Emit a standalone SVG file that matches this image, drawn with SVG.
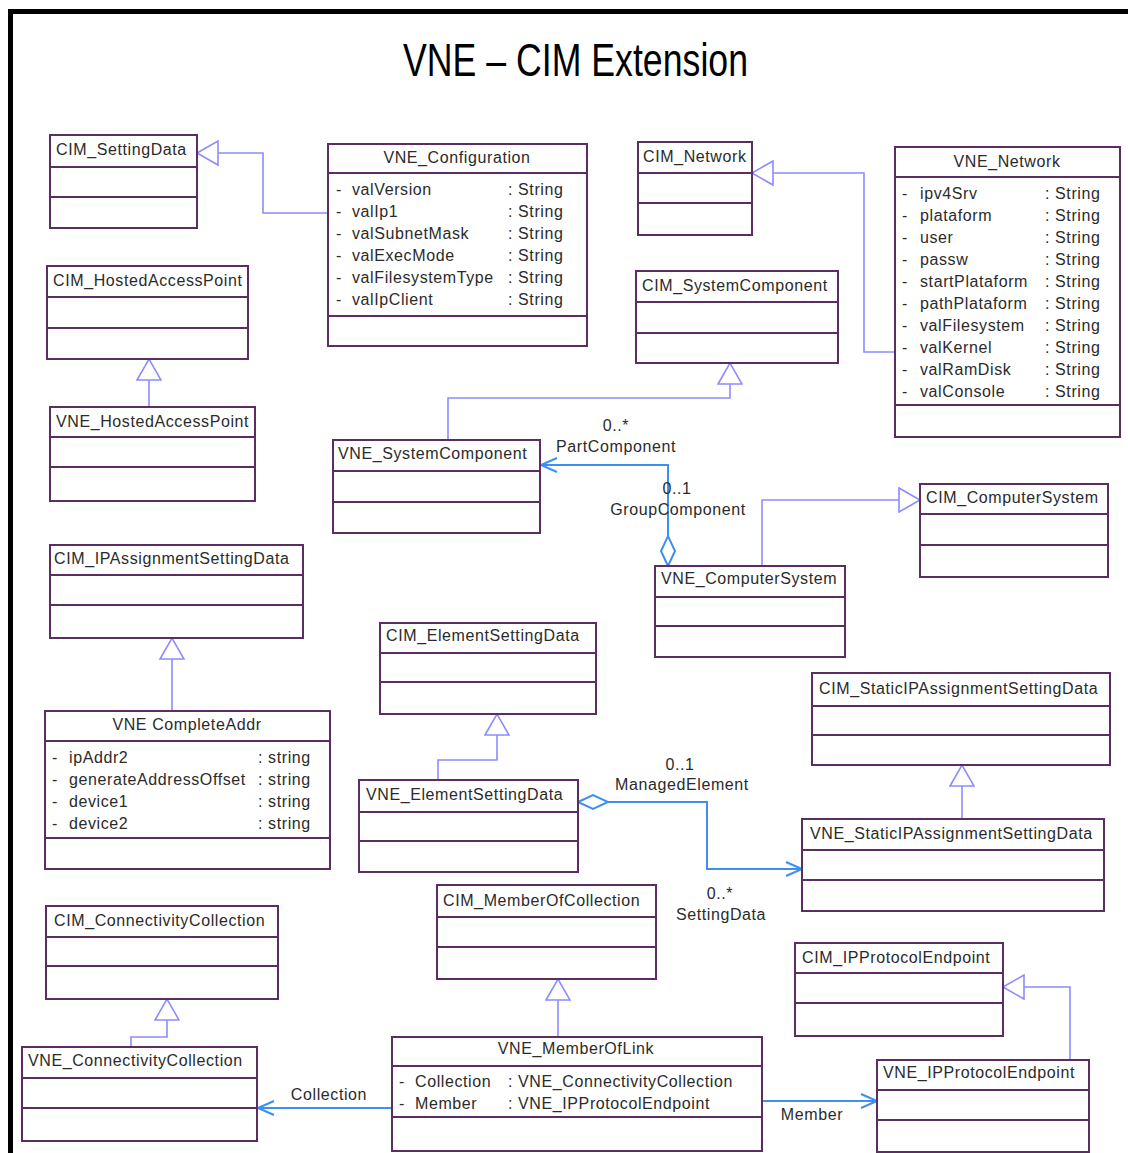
<svg xmlns="http://www.w3.org/2000/svg" width="1128" height="1153" viewBox="0 0 1128 1153">
  <style>
    .box { fill: #ffffff; stroke: #5c2d62; stroke-width: 2; }
    .div { stroke: #5c2d62; stroke-width: 2; }
    .t { font-family: "Liberation Sans", Arial, sans-serif; font-size: 16px; letter-spacing: 0.6px; fill: #2b2b2b; }
    .c { text-anchor: middle; }
    .gen { fill: none; stroke: #8c8cff; stroke-width: 1.6; }
    .assoc { fill: none; stroke: #3d8ff2; stroke-width: 2; }
    .frame { fill: none; stroke: #000000; stroke-width: 5; }
    .title { font-family: "Liberation Sans", Arial, sans-serif; font-size: 47px; fill: #000000; }
  </style>
  <defs>
    <!-- hollow triangle: generalization -->
    <marker id="tri" markerUnits="userSpaceOnUse" markerWidth="24" markerHeight="26" viewBox="0 0 24 26" refX="22" refY="13" orient="auto">
      <path d="M1,1 L22,13 L1,25 Z" fill="#ffffff" stroke="#8c8cff" stroke-width="1.6"/>
    </marker>
    <!-- open arrowhead: navigable association end -->
    <marker id="open" markerUnits="userSpaceOnUse" markerWidth="20" markerHeight="18" viewBox="0 0 20 18" refX="18" refY="9" orient="auto">
      <path d="M2,2 L18,9 L2,16" fill="none" stroke="#3d8ff2" stroke-width="2"/>
    </marker>
    <!-- hollow diamond: aggregation end -->
    <marker id="dia" markerUnits="userSpaceOnUse" markerWidth="34" markerHeight="18" viewBox="0 0 34 18" refX="1" refY="9" orient="auto">
      <path d="M1,9 L16,2 L31,9 L16,16 Z" fill="#ffffff" stroke="#3d8ff2" stroke-width="2"/>
    </marker>
  </defs>

  <rect x="0" y="0" width="1128" height="1153" fill="#ffffff"/>
  <path class="frame" d="M10.5,1153 V11.5 H1128"/>
  <text class="title" x="403" y="76" textLength="345" lengthAdjust="spacingAndGlyphs">VNE – CIM Extension</text>

  <g id="connectors">
    <!-- generalizations -->
    <path class="gen" marker-end="url(#tri)" d="M328,213 H263 V153 H197"/>
    <path class="gen" marker-end="url(#tri)" d="M149,407 V359"/>
    <path class="gen" marker-end="url(#tri)" d="M895,352 H864 V173 H752"/>
    <path class="gen" marker-end="url(#tri)" d="M448,440 V398 H730 V363"/>
    <path class="gen" marker-end="url(#tri)" d="M762,566 V500 H920"/>
    <path class="gen" marker-end="url(#tri)" d="M172,711 V638"/>
    <path class="gen" marker-end="url(#tri)" d="M438,780 V760 H497 V714"/>
    <path class="gen" marker-end="url(#tri)" d="M962,819 V765"/>
    <path class="gen" marker-end="url(#tri)" d="M131,1047 V1037 H167 V999"/>
    <path class="gen" marker-end="url(#tri)" d="M558,1037 V979"/>
    <path class="gen" marker-end="url(#tri)" d="M1070,1060 V987 H1003"/>
    <!-- associations -->
    <path class="assoc" marker-start="url(#dia)" marker-end="url(#open)" d="M668,566 V465 H541"/>
    <path class="assoc" marker-start="url(#dia)" marker-end="url(#open)" d="M578,802 H707 V869 H802"/>
    <path class="assoc" marker-end="url(#open)" d="M392,1108 H258"/>
    <path class="assoc" marker-end="url(#open)" d="M762,1101 H877"/>
    <!-- association end labels -->
    <text class="t c" x="616" y="431">0..*</text>
    <text class="t c" x="616" y="452">PartComponent</text>
    <text class="t c" x="677" y="494">0..1</text>
    <text class="t c" x="678" y="515">GroupComponent</text>
    <text class="t c" x="680" y="770">0..1</text>
    <text class="t c" x="682" y="790">ManagedElement</text>
    <text class="t c" x="720" y="899">0..*</text>
    <text class="t c" x="721" y="920">SettingData</text>
    <text class="t c" x="329" y="1100">Collection</text>
    <text class="t c" x="812" y="1120">Member</text>
  </g>

  <g id="CIM_SettingData">
    <rect class="box" x="50" y="135" width="147" height="93"/>
    <line class="div" x1="50" y1="167" x2="197" y2="167"/>
    <line class="div" x1="50" y1="197" x2="197" y2="197"/>
    <text class="t" x="56" y="155">CIM_SettingData</text>
  </g>

  <g id="VNE_Configuration">
    <rect class="box" x="328" y="144" width="259" height="202"/>
    <line class="div" x1="328" y1="173" x2="587" y2="173"/>
    <line class="div" x1="328" y1="316" x2="587" y2="316"/>
    <text class="t c" x="457" y="163">VNE_Configuration</text>
    <text class="t" x="336" y="195">-</text><text class="t" x="352" y="195">valVersion</text><text class="t" x="508" y="195">: String</text>
    <text class="t" x="336" y="217">-</text><text class="t" x="352" y="217">valIp1</text><text class="t" x="508" y="217">: String</text>
    <text class="t" x="336" y="239">-</text><text class="t" x="352" y="239">valSubnetMask</text><text class="t" x="508" y="239">: String</text>
    <text class="t" x="336" y="261">-</text><text class="t" x="352" y="261">valExecMode</text><text class="t" x="508" y="261">: String</text>
    <text class="t" x="336" y="283">-</text><text class="t" x="352" y="283">valFilesystemType</text><text class="t" x="508" y="283">: String</text>
    <text class="t" x="336" y="305">-</text><text class="t" x="352" y="305">valIpClient</text><text class="t" x="508" y="305">: String</text>
  </g>

  <g id="CIM_HostedAccessPoint">
    <rect class="box" x="47" y="266" width="201" height="93"/>
    <line class="div" x1="47" y1="297" x2="248" y2="297"/>
    <line class="div" x1="47" y1="328" x2="248" y2="328"/>
    <text class="t" x="53" y="286">CIM_HostedAccessPoint</text>
  </g>

  <g id="VNE_HostedAccessPoint">
    <rect class="box" x="50" y="407" width="205" height="94"/>
    <line class="div" x1="50" y1="437" x2="255" y2="437"/>
    <line class="div" x1="50" y1="467" x2="255" y2="467"/>
    <text class="t" x="56" y="427">VNE_HostedAccessPoint</text>
  </g>

  <g id="CIM_Network">
    <rect class="box" x="638" y="142" width="114" height="93"/>
    <line class="div" x1="638" y1="173" x2="752" y2="173"/>
    <line class="div" x1="638" y1="203" x2="752" y2="203"/>
    <text class="t" x="643" y="162">CIM_Network</text>
  </g>

  <g id="VNE_Network">
    <rect class="box" x="895" y="147" width="225" height="290"/>
    <line class="div" x1="895" y1="177" x2="1120" y2="177"/>
    <line class="div" x1="895" y1="405" x2="1120" y2="405"/>
    <text class="t c" x="1007" y="167">VNE_Network</text>
    <text class="t" x="902" y="199">-</text><text class="t" x="920" y="199">ipv4Srv</text><text class="t" x="1045" y="199">: String</text>
    <text class="t" x="902" y="221">-</text><text class="t" x="920" y="221">plataform</text><text class="t" x="1045" y="221">: String</text>
    <text class="t" x="902" y="243">-</text><text class="t" x="920" y="243">user</text><text class="t" x="1045" y="243">: String</text>
    <text class="t" x="902" y="265">-</text><text class="t" x="920" y="265">passw</text><text class="t" x="1045" y="265">: String</text>
    <text class="t" x="902" y="287">-</text><text class="t" x="920" y="287">startPlataform</text><text class="t" x="1045" y="287">: String</text>
    <text class="t" x="902" y="309">-</text><text class="t" x="920" y="309">pathPlataform</text><text class="t" x="1045" y="309">: String</text>
    <text class="t" x="902" y="331">-</text><text class="t" x="920" y="331">valFilesystem</text><text class="t" x="1045" y="331">: String</text>
    <text class="t" x="902" y="353">-</text><text class="t" x="920" y="353">valKernel</text><text class="t" x="1045" y="353">: String</text>
    <text class="t" x="902" y="375">-</text><text class="t" x="920" y="375">valRamDisk</text><text class="t" x="1045" y="375">: String</text>
    <text class="t" x="902" y="397">-</text><text class="t" x="920" y="397">valConsole</text><text class="t" x="1045" y="397">: String</text>
  </g>

  <g id="CIM_SystemComponent">
    <rect class="box" x="636" y="271" width="202" height="92"/>
    <line class="div" x1="636" y1="302" x2="838" y2="302"/>
    <line class="div" x1="636" y1="333" x2="838" y2="333"/>
    <text class="t" x="642" y="291">CIM_SystemComponent</text>
  </g>

  <g id="VNE_SystemComponent">
    <rect class="box" x="333" y="440" width="207" height="93"/>
    <line class="div" x1="333" y1="471" x2="540" y2="471"/>
    <line class="div" x1="333" y1="502" x2="540" y2="502"/>
    <text class="t" x="338" y="459">VNE_SystemComponent</text>
  </g>

  <g id="CIM_ComputerSystem">
    <rect class="box" x="920" y="484" width="188" height="93"/>
    <line class="div" x1="920" y1="514" x2="1108" y2="514"/>
    <line class="div" x1="920" y1="545" x2="1108" y2="545"/>
    <text class="t" x="926" y="503">CIM_ComputerSystem</text>
  </g>

  <g id="VNE_ComputerSystem">
    <rect class="box" x="655" y="566" width="190" height="91"/>
    <line class="div" x1="655" y1="597" x2="845" y2="597"/>
    <line class="div" x1="655" y1="626" x2="845" y2="626"/>
    <text class="t" x="661" y="584">VNE_ComputerSystem</text>
  </g>

  <g id="CIM_IPAssignmentSettingData">
    <rect class="box" x="50" y="545" width="253" height="93"/>
    <line class="div" x1="50" y1="575" x2="303" y2="575"/>
    <line class="div" x1="50" y1="605" x2="303" y2="605"/>
    <text class="t" x="54" y="564">CIM_IPAssignmentSettingData</text>
  </g>

  <g id="VNE_CompleteAddr">
    <rect class="box" x="45" y="711" width="285" height="158"/>
    <line class="div" x1="45" y1="741" x2="330" y2="741"/>
    <line class="div" x1="45" y1="838" x2="330" y2="838"/>
    <text class="t c" x="187" y="730">VNE CompleteAddr</text>
    <text class="t" x="52" y="763">-</text><text class="t" x="69" y="763">ipAddr2</text><text class="t" x="258" y="763">: string</text>
    <text class="t" x="52" y="785">-</text><text class="t" x="69" y="785">generateAddressOffset</text><text class="t" x="258" y="785">: string</text>
    <text class="t" x="52" y="807">-</text><text class="t" x="69" y="807">device1</text><text class="t" x="258" y="807">: string</text>
    <text class="t" x="52" y="829">-</text><text class="t" x="69" y="829">device2</text><text class="t" x="258" y="829">: string</text>
  </g>

  <g id="CIM_ElementSettingData">
    <rect class="box" x="380" y="623" width="216" height="91"/>
    <line class="div" x1="380" y1="653" x2="596" y2="653"/>
    <line class="div" x1="380" y1="682" x2="596" y2="682"/>
    <text class="t" x="386" y="641">CIM_ElementSettingData</text>
  </g>

  <g id="VNE_ElementSettingData">
    <rect class="box" x="359" y="780" width="219" height="92"/>
    <line class="div" x1="359" y1="812" x2="578" y2="812"/>
    <line class="div" x1="359" y1="841" x2="578" y2="841"/>
    <text class="t" x="366" y="800">VNE_ElementSettingData</text>
  </g>

  <g id="CIM_StaticIPAssignmentSettingData">
    <rect class="box" x="812" y="673" width="298" height="92"/>
    <line class="div" x1="812" y1="706" x2="1110" y2="706"/>
    <line class="div" x1="812" y1="735" x2="1110" y2="735"/>
    <text class="t" x="819" y="694">CIM_StaticIPAssignmentSettingData</text>
  </g>

  <g id="VNE_StaticIPAssignmentSettingData">
    <rect class="box" x="802" y="819" width="302" height="92"/>
    <line class="div" x1="802" y1="850" x2="1104" y2="850"/>
    <line class="div" x1="802" y1="880" x2="1104" y2="880"/>
    <text class="t" x="810" y="839">VNE_StaticIPAssignmentSettingData</text>
  </g>

  <g id="CIM_ConnectivityCollection">
    <rect class="box" x="46" y="906" width="232" height="93"/>
    <line class="div" x1="46" y1="937" x2="278" y2="937"/>
    <line class="div" x1="46" y1="966" x2="278" y2="966"/>
    <text class="t" x="54" y="926">CIM_ConnectivityCollection</text>
  </g>

  <g id="VNE_ConnectivityCollection">
    <rect class="box" x="22" y="1047" width="235" height="94"/>
    <line class="div" x1="22" y1="1078" x2="257" y2="1078"/>
    <line class="div" x1="22" y1="1108" x2="257" y2="1108"/>
    <text class="t" x="28" y="1066">VNE_ConnectivityCollection</text>
  </g>

  <g id="CIM_MemberOfCollection">
    <rect class="box" x="437" y="885" width="219" height="94"/>
    <line class="div" x1="437" y1="917" x2="656" y2="917"/>
    <line class="div" x1="437" y1="947" x2="656" y2="947"/>
    <text class="t" x="443" y="906">CIM_MemberOfCollection</text>
  </g>

  <g id="VNE_MemberOfLink">
    <rect class="box" x="392" y="1037" width="370" height="114"/>
    <line class="div" x1="392" y1="1066" x2="762" y2="1066"/>
    <line class="div" x1="392" y1="1117" x2="762" y2="1117"/>
    <text class="t c" x="576" y="1054">VNE_MemberOfLink</text>
    <text class="t" x="399" y="1087">-</text><text class="t" x="415" y="1087">Collection</text><text class="t" x="508" y="1087">: VNE_ConnectivityCollection</text>
    <text class="t" x="399" y="1109">-</text><text class="t" x="415" y="1109">Member</text><text class="t" x="508" y="1109">: VNE_IPProtocolEndpoint</text>
  </g>

  <g id="CIM_IPProtocolEndpoint">
    <rect class="box" x="795" y="943" width="208" height="93"/>
    <line class="div" x1="795" y1="973" x2="1003" y2="973"/>
    <line class="div" x1="795" y1="1003" x2="1003" y2="1003"/>
    <text class="t" x="802" y="963">CIM_IPProtocolEndpoint</text>
  </g>

  <g id="VNE_IPProtocolEndpoint">
    <rect class="box" x="877" y="1060" width="212" height="92"/>
    <line class="div" x1="877" y1="1090" x2="1089" y2="1090"/>
    <line class="div" x1="877" y1="1120" x2="1089" y2="1120"/>
    <text class="t" x="883" y="1078">VNE_IPProtocolEndpoint</text>
  </g>
</svg>
